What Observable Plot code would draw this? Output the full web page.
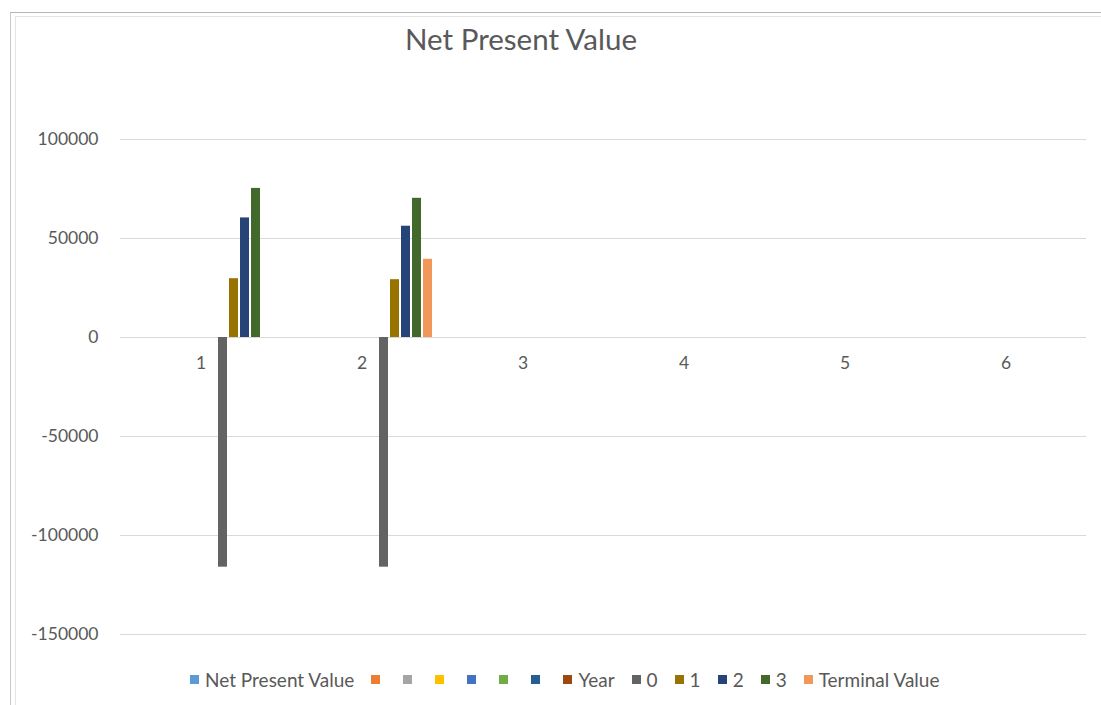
<!DOCTYPE html>
<html>
<head>
<meta charset="utf-8">
<script src="https://cdn.jsdelivr.net/npm/d3@7"></script>
<script src="https://cdn.jsdelivr.net/npm/@observablehq/plot@0.6"></script>
<style>
  html, body { margin: 0; padding: 0; background: #fff; }
  #wrap { position: relative; width: 1101px; height: 705px; overflow: hidden; font-family: Lato, "Open Sans", sans-serif; }
  #frameOuter { position: absolute; left: 10px; top: 12px; right: -5px; bottom: -5px; border-top: 1px solid #b5b5b5; border-left: 1px solid #c8c8c8; }
  #frameInner { position: absolute; left: 15px; top: 16px; right: -5px; bottom: -5px; border-top: 1px solid #e4e4e4; border-left: 1px solid #e4e4e4; }
  #title { position: absolute; left: 0; width: 1042px; top: 21px; text-align: center; font-size: 29.5px; color: #595959; }
  #chart { position: absolute; left: 0; top: 0; }
  #legend { position: absolute; left: 190px; top: 668px; display: flex; align-items: center; font-size: 19px; color: #595959; white-space: nowrap; }
  .item { display: flex; align-items: center; margin-right: 17px; }
  .sw { width: 9px; height: 9px; margin-right: 6px; }
</style>
</head>
<body>
<div id="wrap">
  <div id="frameOuter"></div>
  <div id="frameInner"></div>
  <div id="title">Net Present Value</div>
  <div id="chart"></div>
  <div id="legend"></div>
</div>
<script>
const categories = [1, 2, 3, 4, 5, 6];
const seriesNames = ["Net Present Value", "", "", "", "", "", "", "Year", "0", "1", "2", "3", "Terminal Value"];
const seriesColors = ["#5B9BD5", "#ED7D31", "#A5A5A5", "#FFC000", "#4472C4", "#70AD47", "#255E91", "#9E480E", "#636363", "#997300", "#264478", "#43682B", "#F1975A"];
const valuesYear0 = [-116000, -116000];
const valuesYear1 = [29700, 29200];
const valuesYear2 = [60400, 56200];
const valuesYear3 = [75300, 70300];
const valuesTerminal = [null, 39500];
const yTicks = [-150000, -100000, -50000, 0, 50000, 100000];

const seriesValues = [[8, valuesYear0], [9, valuesYear1], [10, valuesYear2], [11, valuesYear3], [12, valuesTerminal]];
const rows = [];
for (const [s, vals] of seriesValues) {
  vals.forEach((v, i) => { if (v != null) rows.push({cat: categories[i], s, value: v}); });
}

const chart = Plot.plot({
  width: 1101,
  height: 660,
  marginTop: 139,
  marginLeft: 118,
  marginRight: 13,
  marginBottom: 26,
  style: {fontFamily: "Lato, 'Open Sans', sans-serif", background: "transparent"},
  fx: {domain: categories, padding: 0, axis: null},
  x: {domain: d3.range(seriesNames.length), paddingInner: 0.22, paddingOuter: 0.85, axis: null},
  y: {domain: [-150000, 100000], axis: null},
  color: {type: "ordinal", domain: d3.range(seriesNames.length), range: seriesColors},
  marks: [
    Plot.gridY(yTicks, {stroke: "#d9d9d9", strokeOpacity: 1, strokeWidth: 1}),
    Plot.axisY(yTicks, {tickSize: 0, tickPadding: 22, label: null, tickFormat: d => String(d), fontSize: 17.5, fill: "#595959"}),
    Plot.barY(rows, {fx: "cat", x: "s", y: "value", fill: "s"}),
    Plot.text(categories, {fx: d => d, y: 0, text: d => String(d), dy: 26, fontSize: 17.5, fill: "#595959"})
  ]
});
document.getElementById("chart").appendChild(chart);

const legend = document.getElementById("legend");
seriesNames.forEach((name, i) => {
  const item = document.createElement("div");
  item.className = "item";
  const sw = document.createElement("div");
  sw.className = "sw";
  sw.style.background = seriesColors[i];
  item.appendChild(sw);
  const lab = document.createElement("span");
  lab.textContent = name;
  item.appendChild(lab);
  legend.appendChild(item);
});
</script>
</body>
</html>
